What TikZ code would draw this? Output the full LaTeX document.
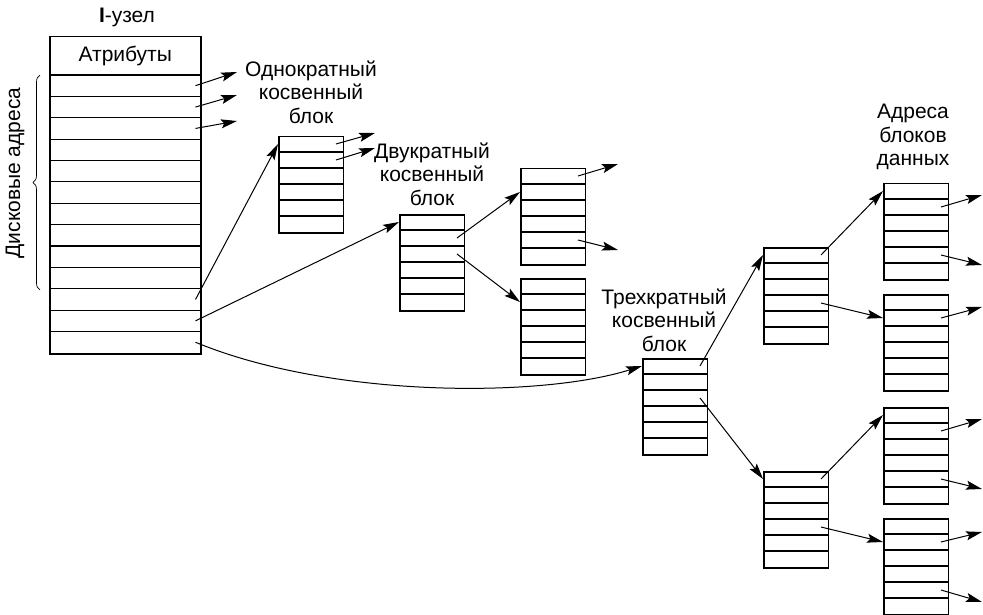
\documentclass[tikz,border=0pt]{standalone}
\usepackage{fontspec}
\setmainfont{Liberation Sans}
\usetikzlibrary{calc,arrows.meta,decorations.pathreplacing}

\tikzset{
  blk/.style={draw,line width=1.5pt,minimum width=64.5pt,minimum height=96pt,inner sep=0pt,anchor=north west},
  rowline/.style={line width=1.1pt},
  ptr/.style={line width=1pt,-{Stealth[length=16pt,width=9pt,inset=3pt]}},
  lbl/.style={align=center,font=\fontsize{21}{23.5}\selectfont,inner sep=0pt},
}
% block of six address slots, top left corner at (#2,#3)
\newcommand{\blok}[3]{%
  \node[blk] (#1) at (#2,#3) {};
  \foreach \k in {1,...,6}{%
    \ifnum\k<6 \draw[rowline] ($(#1.north west)+(0,\k*16)$) -- ($(#1.north east)+(0,\k*16)$);\fi
    \coordinate (#1-\k) at ($(#1.north east)+(-8,\k*16-8)$);
    \coordinate (#1-w\k) at ($(#1.north west)+(0,\k*16-8)$);
  }%
}

\begin{document}
\begin{tikzpicture}[x=1pt,y=-1pt]
\path[use as bounding box] (0,0) rectangle (983,615);

% i-node
\node[lbl] (ilbl) at (127,17) {\textbf{I}-узел};
\node[draw,line width=1.5pt,minimum width=151pt,minimum height=317pt,inner sep=0pt,anchor=north west] (inode) at (49,36) {};
\node[lbl] (attr) at ($(inode.north)+(0,20)$) {Атрибуты};
\draw[rowline] ($(inode.north west)+(0,39)$) -- ($(inode.north east)+(0,39)$);
\foreach \k in {1,...,13}{
  \ifnum\k<13 \draw[rowline] ($(inode.north west)+(0,39+\k*21.38)$) -- ($(inode.north east)+(0,39+\k*21.38)$);\fi
  \coordinate (inode-\k) at ($(inode.north east)+(-6,39+\k*21.38-10.7)$);
}
\draw[decorate,decoration={brace,amplitude=7pt},line width=0.7pt] (40,290) -- (40,75);
\node[lbl,rotate=90] (disk) at (15,173) {Дисковые адреса};

% indirect blocks
\blok{s}{278}{136}
\blok{d}{399}{214}
\blok{da}{520}{168}
\blok{db}{520}{278}
\blok{t}{642}{358}
\blok{ta}{763}{247}
\blok{tb}{763}{471}
\blok{ea}{883}{183}
\blok{eb}{883}{294}
\blok{ec}{883}{407}
\blok{ed}{883}{518}

\node[lbl] (slbl) at (311,92) {Однократный\\косвенный\\блок};
\node[lbl] (dlbl) at (432,174) {Двукратный\\косвенный\\блок};
\node[lbl] (tlbl) at (664,320) {Трехкратный\\косвенный\\блок};
\node[lbl] (elbl) at (913,137) {Адреса\\блоков\\данных};

% free ends
\coordinate (f1) at (237,72);
\coordinate (f2) at (237,95);
\coordinate (f3) at (237,121);
\coordinate (f4) at (375,133);
\coordinate (f5) at (375,148);
\coordinate (f6) at (618,164);
\coordinate (f7) at (618,250);
\coordinate (f8) at (982,195);
\coordinate (f9) at (982,265);
\coordinate (f10) at (982,307);
\coordinate (f11) at (982,419);
\coordinate (f12) at (982,489);
\coordinate (f13) at (982,532);
\coordinate (f14) at (982,602);

% pointers
\draw[ptr] (inode-1) -- (f1);
\draw[ptr] (inode-2) -- (f2);
\draw[ptr] (inode-3) -- (f3);
\draw[ptr] (inode-11) -- (s-w1);
\draw[ptr] (inode-12) -- (d-w1);
\draw[ptr] (inode-13) .. controls (330,398) and (540,398) .. (t-w1);
\draw[ptr] (s-1) -- (f4);
\draw[ptr] (s-2) -- (f5);
\draw[ptr] (d-2) -- (da-w2);
\draw[ptr] (d-3) -- (db-w2);
\draw[ptr] (da-1) -- (f6);
\draw[ptr] (da-5) -- (f7);
\draw[ptr] (t-1) -- (ta-w1);
\draw[ptr] (t-3) -- (tb-w1);
\draw[ptr] (ta-1) -- (ea-w1);
\draw[ptr] (ta-4) -- (eb-w2);
\draw[ptr] (tb-1) -- (ec-w1);
\draw[ptr] (tb-4) -- (ed-w2);
\draw[ptr] (ea-2) -- (f8);
\draw[ptr] (ea-5) -- (f9);
\draw[ptr] (eb-2) -- (f10);
\draw[ptr] (ec-2) -- (f11);
\draw[ptr] (ec-5) -- (f12);
\draw[ptr] (ed-2) -- (f13);
\draw[ptr] (ed-5) -- (f14);
\end{tikzpicture}
\end{document}
